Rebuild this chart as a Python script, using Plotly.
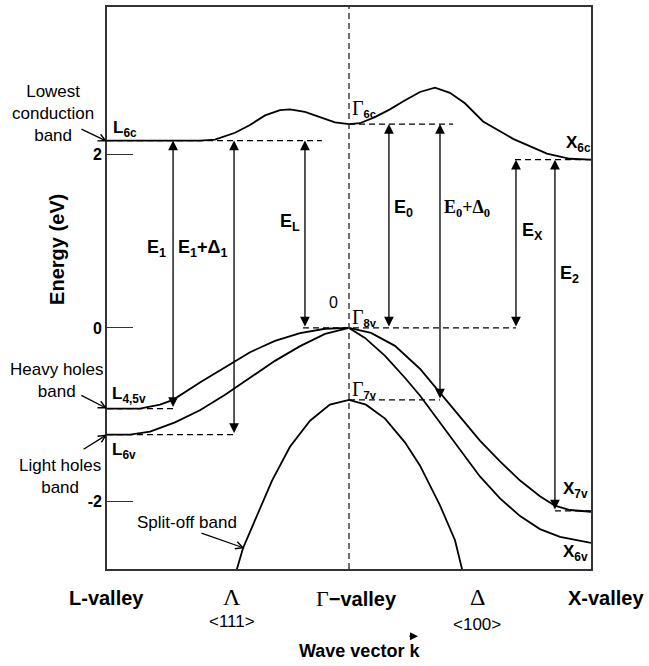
import plotly.graph_objects as go

# ---------------- data (k: L=-1, Gamma=0, X=+1 ; E in eV) ----------------
cb_k = [-1.0, -0.822, -0.616, -0.554, -0.471, -0.409, -0.347, -0.285, -0.244, -0.182, -0.120, -0.058, 0.0,
        0.045, 0.107, 0.169, 0.223, 0.293, 0.355, 0.417, 0.479, 0.554, 0.678, 0.818, 0.913, 1.0]
cb_E = [2.16, 2.16, 2.16, 2.17, 2.25, 2.34, 2.45, 2.51, 2.52, 2.49, 2.43, 2.37, 2.35,
        2.36, 2.43, 2.52, 2.61, 2.72, 2.77, 2.71, 2.59, 2.38, 2.18, 2.01, 1.95, 1.94]

hh_k = [-1.0, -0.864, -0.781, -0.727, -0.616, -0.512, -0.409, -0.306, -0.202, -0.099, 0.0,
        0.091, 0.190, 0.293, 0.376, 0.459, 0.541, 0.624, 0.707, 0.789, 0.851, 0.913, 1.0]
hh_E = [-0.93, -0.93, -0.885, -0.83, -0.63, -0.45, -0.28, -0.15, -0.06, -0.01, 0.0,
        -0.057, -0.207, -0.471, -0.747, -1.034, -1.299, -1.54, -1.76, -1.94, -2.05, -2.10, -2.12]

lh_k = [-1.0, -0.905, -0.822, -0.719, -0.616, -0.512, -0.409, -0.306, -0.202, -0.099, 0.0,
        0.066, 0.149, 0.231, 0.293, 0.376, 0.459, 0.541, 0.624, 0.707, 0.789, 0.872, 1.0]
lh_E = [-1.23, -1.23, -1.195, -1.09, -0.95, -0.77, -0.575, -0.38, -0.21, -0.07, 0.0,
        -0.115, -0.322, -0.575, -0.78, -1.09, -1.414, -1.713, -1.966, -2.17, -2.32, -2.41, -2.48]

so_k = [-0.475, -0.463, -0.438, -0.388, -0.318, -0.244, -0.161, -0.079, 0.0,
        0.070, 0.149, 0.231, 0.293, 0.376, 0.438, 0.467, 0.478]
so_E = [-2.95, -2.78, -2.54, -2.21, -1.76, -1.37, -1.07, -0.885, -0.83,
        -0.885, -1.046, -1.32, -1.586, -2.046, -2.448, -2.78, -2.95]

# critical-point levels (eV)
E_L6c, E_G6c, E_X6c = 2.16, 2.35, 1.94
E_G8v, E_G7v = 0.0, -0.83
E_L45v, E_L6v = -0.93, -1.23
E_X7v = -2.11

# transitions: (k position, upper E, lower E)
trans_k = [-0.727, -0.475, -0.182, 0.165, 0.376, 0.690, 0.851]
trans_top = [E_L6c, E_L6c, E_L6c, E_G6c, E_G6c, E_X6c, E_X6c]
trans_bot = [E_L45v, E_L6v, E_G8v, E_G8v, E_G7v, E_G8v, E_X7v]

# dashed reference levels: (k start, k end, E)
dash_k0 = [-1.0, 0.0, 0.686, -0.19, 0.0, -1.0, -1.0, 0.851]
dash_k1 = [-0.112, 0.43, 1.0, 0.69, 0.376, -0.727, -0.475, 1.0]
dash_E = [E_L6c, E_G6c, E_X6c, E_G8v, E_G7v, E_L45v, E_L6v, E_X7v]

y_ticks = [-2, 0, 2]
K_MIN, K_MAX = -1.0, 1.0
E_MIN, E_MAX = -2.78, 3.70

fig = go.Figure()

BL = dict(color="black", width=1.8)
for kk, ee in [(cb_k, cb_E), (hh_k, hh_E), (lh_k, lh_E), (so_k, so_E)]:
    fig.add_trace(go.Scatter(x=kk, y=ee, mode="lines", line=BL, hoverinfo="skip", showlegend=False))

for a, b, e in zip(dash_k0, dash_k1, dash_E):
    fig.add_trace(go.Scatter(x=[a, b], y=[e, e], mode="lines",
                             line=dict(color="black", width=1.3, dash="6px,4px"),
                             hoverinfo="skip", showlegend=False))

# vertical Gamma line
fig.add_trace(go.Scatter(x=[0, 0], y=[E_MIN, E_MAX], mode="lines",
                         line=dict(color="#333", width=1.4, dash="6px,4px"),
                         hoverinfo="skip", showlegend=False))

ann = []
for k, t, b in zip(trans_k, trans_top, trans_bot):
    ann.append(dict(x=k, y=t, ax=k, ay=b, xref="x", yref="y", axref="x", ayref="y", text="",
                    showarrow=True, arrowside="end+start", arrowhead=2, startarrowhead=2,
                    arrowsize=1.5, startarrowsize=1.5, arrowwidth=1.3, arrowcolor="black"))

SANS = "Liberation Sans, Arial, sans-serif"
SERIF = "Liberation Serif, Times New Roman, serif"


def px_(k):
    return (k - K_MIN) / (K_MAX - K_MIN)


def py_(e):
    return (e - E_MIN) / (E_MAX - E_MIN)


def txt(x, y, s, size=18, bold=True, xa="left", ya="middle", fam=SANS, angle=0):
    ann.append(dict(x=px_(x), y=py_(y), xref="paper", yref="paper", text=s, showarrow=False,
                    xanchor=xa, yanchor=ya, textangle=angle,
                    font=dict(family=fam, size=size, color="black", weight="bold" if bold else "normal")))


def G(sub):
    return ('<span style="font-family:Liberation Serif;font-weight:normal;font-size:20px">Γ</span>'
            '<sub>' + sub + '</sub>')


# transition labels
txt(-0.748, 0.92, "E<sub>1</sub>", xa="right")
txt(-0.492, 0.92, "E<sub>1</sub>+Δ<sub>1</sub>", xa="right")
txt(-0.194, 1.21, "E<sub>L</sub>", xa="right")
txt(0.178, 1.38, "E<sub>0</sub>")
txt(0.386, 1.38, "E<sub>0</sub>+Δ<sub>0</sub>", fam=SERIF)
txt(0.707, 1.11, "E<sub>X</sub>")
txt(0.864, 0.62, "E<sub>2</sub>")

# point labels
txt(-0.985, 2.29, "L<sub>6c</sub>", size=17)
txt(0.004, 2.53, G("6c"), size=16)
txt(0.887, 2.12, "X<sub>6c</sub>", size=17)
txt(-0.062, 0.29, "0", size=16, bold=False, xa="center")
txt(0.004, 0.12, G("8v"), size=16)
txt(0.004, -0.71, G("7v"), size=16)
txt(-0.988, -0.77, "L<sub>4,5v</sub>", size=17)
txt(-0.988, -1.42, "L<sub>6v</sub>", size=17)
txt(0.878, -1.87, "X<sub>7v</sub>", size=17)
txt(0.878, -2.60, "X<sub>6v</sub>", size=17)

# band names
txt(-1.225, 2.47, "Lowest<br>conduction<br>band", size=17, bold=False, xa="center")
txt(-1.207, -0.61, "Heavy holes<br>band", size=17, bold=False, xa="center")
txt(-1.194, -1.71, "Light holes<br>band", size=17, bold=False, xa="center")
txt(-0.669, -2.24, "Split-off band", size=17, bold=False, xa="center")

# pointer arrows for band names
for hx, hy, tx, ty in [(-1.0, 2.15, -1.112, 2.30), (-1.0, -0.93, -1.112, -0.77),
                       (-1.0, -1.23, -1.103, -1.41), (-0.432, -2.54, -0.616, -2.36)]:
    ann.append(dict(x=hx, y=hy, ax=tx, ay=ty, xref="x", yref="y", axref="x", ayref="y", text="",
                    showarrow=True, arrowhead=5, arrowsize=1.1, arrowwidth=1.3, arrowcolor="black"))

# axis title
txt(-1.207, 0.91, "Energy (eV)", size=20, xa="center", angle=-90)

# bottom labels
txt(-1.004, -3.115, "L-valley", size=20, xa="center")
txt(-0.483, -3.10, "Λ", size=24, bold=False, xa="center", fam=SERIF)
txt(-0.483, -3.38, "&lt;111&gt;", size=17, bold=False, xa="center", fam="Liberation Sans")
txt(0.03, -3.115, '<span style="font-family:Liberation Serif;font-weight:normal;font-size:22px">Γ</span>−valley',
    size=20, xa="center")
txt(0.529, -3.10, "Δ", size=24, bold=False, xa="center", fam=SERIF)
txt(0.529, -3.42, "&lt;100&gt;", size=17, bold=False, xa="center", fam="Liberation Sans")
txt(1.062, -3.115, "X-valley", size=20, xa="center")
txt(0.045, -3.73, "Wave vector k", size=18, xa="center")
# small arrow over the k
ann.append(dict(x=px_(0.285), y=py_(-3.555), xref="paper", yref="paper", ax=-10, ay=0,
                axref="pixel", ayref="pixel", text="", showarrow=True, arrowhead=2, arrowsize=1.0,
                arrowwidth=1.6, arrowcolor="black"))

fig.update_layout(
    width=649, height=666,
    margin=dict(l=107, r=58, t=5, b=97),
    paper_bgcolor="white", plot_bgcolor="white",
    showlegend=False,
    annotations=ann,
    xaxis=dict(range=[K_MIN, K_MAX], showgrid=False, zeroline=False, showticklabels=False, ticks="",
               showline=True, mirror=True, linecolor="#333", linewidth=1.6, fixedrange=True),
    yaxis=dict(range=[E_MIN, E_MAX], showgrid=False, zeroline=False, tickvals=y_ticks,
               ticktext=[str(v) for v in y_ticks], ticks="inside", ticklen=26, tickwidth=1.2,
               tickcolor="#333", tickfont=dict(family=SANS, size=16, color="black", weight="bold"),
               showline=True, mirror=True, linecolor="#333", linewidth=1.6, fixedrange=True),
)

fig.write_html("out.html", config={"displayModeBar": False},
               post_script="document.body.style.margin='0';document.body.style.padding='0';")
